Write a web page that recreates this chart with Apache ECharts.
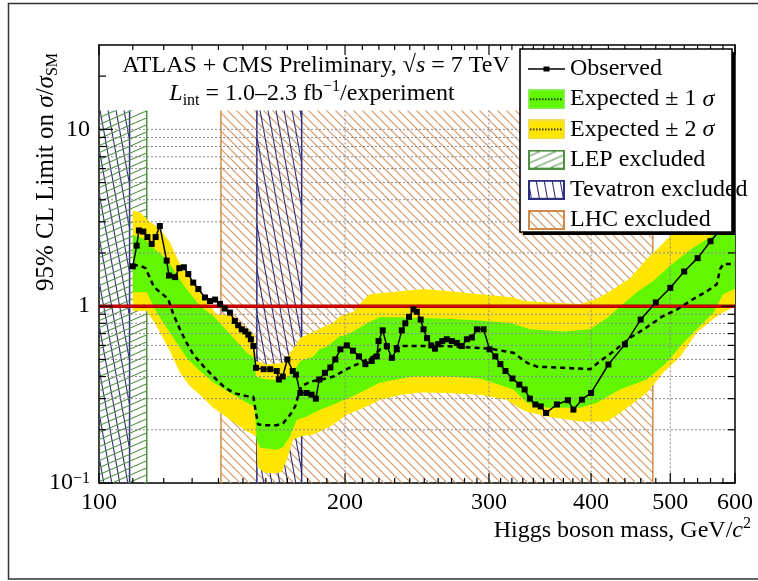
<!DOCTYPE html>
<html>
<head>
<meta charset="utf-8">
<script src="https://cdn.jsdelivr.net/npm/echarts@6/dist/echarts.min.js"></script>
<style>
  html, body { margin: 0; padding: 0; background: #fff; }
  #chart { width: 758px; height: 581px; }
</style>
</head>
<body>
<div id="chart"></div>
<script>
// ---- data -------------------------------------------------------------
// Observed 95% CL limit on sigma/sigma_SM vs Higgs mass (GeV)
const massObs = [110, 111.2, 111.9, 113.3, 114.6, 116, 117.3, 118.7, 121, 121.8, 123.9, 125.4, 127, 128.6,
  130.4, 132.3, 134.8, 136.7, 138.7, 140.6, 142.5, 144.6, 146.6, 148, 149.5, 151, 152.3, 153.4, 154.5, 155.6,
  159, 162, 165, 166, 167.8, 170, 172.6, 174.2, 176.3, 179.5, 182, 184.2, 186, 189, 191.9, 194.6, 197.4,
  201, 204.5, 208, 211.8, 215.6, 218.7, 219.8, 222.4, 225, 228.2, 231.4, 234.7, 237, 239.5, 242.5, 244.8,
  247.5, 249.5, 252, 255, 257.7, 260, 263, 266.4, 270.2, 274, 277.9, 281.9, 285.9, 290, 295.5, 300.5,
  305.4, 309.8, 314.3, 320.5, 326.8, 331.7, 336.7, 341.9, 347.1, 352.4, 363.3, 374.7, 380.6, 389.8, 400,
  420, 440, 460, 480, 500, 520, 540, 560, 580];
const limitObs = [1.68, 2.2, 2.68, 2.64, 2.46, 2.25, 2.46, 2.84, 1.81, 1.49, 1.46, 1.64, 1.66, 1.52,
  1.36, 1.25, 1.12, 1.07, 1.09, 1.03, 0.97, 0.92, 0.825, 0.78, 0.74, 0.72, 0.69, 0.65, 0.595, 0.448,
  0.44, 0.44, 0.43, 0.385, 0.40, 0.50, 0.43, 0.41, 0.323, 0.323, 0.316, 0.30, 0.385, 0.42, 0.45, 0.50, 0.57,
  0.60, 0.56, 0.52, 0.47, 0.49, 0.52, 0.635, 0.73, 0.595, 0.51, 0.57, 0.73, 0.80, 0.87, 0.96, 0.93,
  0.84, 0.74, 0.66, 0.60, 0.575, 0.61, 0.635, 0.65, 0.635, 0.62, 0.595, 0.65, 0.665, 0.74, 0.74, 0.57,
  0.52, 0.47, 0.43, 0.39, 0.36, 0.338, 0.30, 0.278, 0.271, 0.249, 0.278, 0.294, 0.26, 0.296, 0.323,
  0.468, 0.608, 0.84, 1.05, 1.27, 1.57, 1.87, 2.33, 2.8];

// Median expected limit
const massExp = [110, 112.5, 114, 116.8, 119.3, 121.5, 123.3, 125.6, 128, 130.4, 134.2, 138, 141.9, 146,
  151.6, 154.5, 155.6, 156.6, 160.4, 165, 168, 171.3, 173.8, 175.4, 177, 182, 187.3, 193.6, 201, 208.6,
  216.6, 220.8, 231.4, 247, 266, 292.7, 304, 321.4, 334, 343.6, 370.5, 399, 410.6, 426.5, 447, 466, 488,
  510, 533, 555, 570, 575.3, 580.4, 600];
const limitExp = [1.71, 1.69, 1.64, 1.28, 1.18, 1.10, 0.90, 0.74, 0.62, 0.534, 0.458, 0.40, 0.353, 0.323,
  0.31, 0.307, 0.25, 0.214, 0.212, 0.212, 0.218, 0.243, 0.271, 0.316, 0.353, 0.376, 0.385, 0.40, 0.44, 0.478,
  0.52, 0.57, 0.595, 0.595, 0.595, 0.58, 0.57, 0.545, 0.478, 0.455, 0.448, 0.44, 0.49, 0.557, 0.665, 0.75, 0.87,
  0.96, 1.095, 1.22, 1.33, 1.62, 1.73, 1.73];

// +1 sigma / -1 sigma edges
const sig1UpMass = [110, 113.8, 117.6, 121, 124.7, 128, 133, 138, 146, 151.6, 155, 155.6, 160.4, 168, 172.8,
  176.3, 182.9, 186, 190, 197.4, 200, 206.8, 212.6, 220.8, 242.5, 266.4, 292.7, 320, 337, 370.5, 399, 418.6,
  434.4, 454.8, 476.4, 500, 530, 570, 600];
const sig1UpVal = [2.53, 2.4, 2.06, 1.85, 1.49, 1.25, 1.0, 0.88, 0.664, 0.545, 0.51, 0.40, 0.385, 0.385, 0.42,
  0.49, 0.52, 0.57, 0.59, 0.68, 0.68, 0.74, 0.80, 0.87, 0.86, 0.85, 0.83, 0.80, 0.74, 0.72, 0.74, 0.86,
  1.0, 1.2, 1.39, 1.7, 2.1, 2.6, 3.3];
const sig1DnMass = [110, 114.4, 117.6, 123.3, 128, 132.9, 138, 146, 151.6, 155, 155.9, 157.5, 165, 168, 171.3,
  174.6, 179.5, 186.4, 193.6, 201, 204.7, 213, 220.8, 242.5, 266, 292.7, 321.4, 334, 353.3, 387.7, 406.6,
  434, 468, 495, 514.5, 538.6, 565, 580, 600];
const sig1DnVal = [1.2, 1.2, 0.92, 0.664, 0.51, 0.43, 0.37, 0.316, 0.284, 0.271, 0.176, 0.158, 0.154, 0.16, 0.184,
  0.228, 0.238, 0.26, 0.278, 0.30, 0.31, 0.34, 0.37, 0.40, 0.40, 0.39, 0.338, 0.284, 0.266, 0.266, 0.284,
  0.338, 0.385, 0.478, 0.595, 0.74, 0.92, 1.17, 1.25];

// +2 sigma / -2 sigma edges
const sig2UpMass = [110, 112.2, 114.9, 118.7, 122.1, 125, 128, 132.9, 139.3, 146, 151.6, 155, 155.6, 160.4,
  168, 173.8, 176.3, 184.7, 193.6, 197.4, 204.7, 210.5, 214.4, 226.8, 249, 266.4, 292.7, 321.4, 331.7,
  353.3, 387.7, 406.6, 424, 447, 468, 486.6, 500, 530, 600];
const sig2UpVal = [3.48, 3.4, 3.05, 2.74, 2.3, 1.81, 1.52, 1.2, 0.90, 0.88, 0.74, 0.69, 0.49, 0.468,
  0.478, 0.595, 0.664, 0.73, 0.81, 0.88, 0.93, 1.08, 1.17, 1.2, 1.25, 1.22, 1.17, 1.12, 1.07,
  1.05, 1.03, 1.1, 1.23, 1.45, 1.85, 2.2, 2.5, 3.3, 5.0];
const sig2DnMass = [110, 114.4, 117.6, 122.1, 125.6, 129.2, 132.9, 138, 144.7, 151.6, 155.9, 156.2, 159, 163.4,
  167.3, 169.7, 172.9, 177, 182.9, 191.9, 201, 212.6, 220.8, 233.4, 247, 266.4, 292.7, 315, 331.7, 353.3,
  387.7, 418.6, 434, 468, 490, 514.5, 538.6, 565, 580, 600];
const sig2DnVal = [0.94, 0.94, 0.77, 0.557, 0.42, 0.353, 0.316, 0.266, 0.228, 0.196, 0.184, 0.123, 0.115, 0.113,
  0.115, 0.135, 0.176, 0.184, 0.188, 0.209, 0.243, 0.271, 0.296, 0.315, 0.325, 0.323, 0.316, 0.296, 0.255, 0.238,
  0.223, 0.223, 0.249, 0.323, 0.42, 0.52, 0.71, 0.85, 0.92, 1.0];

// Excluded mass ranges (GeV)
const lepRanges = [[100, 114.4]];
const tevatronRanges = [[100, 109], [156, 177]];
const lhcRanges = [[141, 476]];
const exclusionTop = 12.8;   // hatched areas stop below the header text
const smLevel = 1;

// Axis ranges, ticks and grid
const xRange = [100, 600];
const yRange = [0.1, 30];
const xLabels = [100, 200, 300, 400, 500, 600];
const xMinorTicks = [110, 120, 130, 140, 150, 160, 170, 180, 190, 210, 220, 230, 240, 250, 260, 270, 280, 290,
  310, 320, 330, 340, 350, 360, 370, 380, 390, 420, 440, 460, 480, 520, 540, 560, 580];
const yLabels = [0.1, 1, 10];
const yMinorTicks = [0.2, 0.3, 0.4, 0.5, 0.6, 0.7, 0.8, 0.9, 2, 3, 4, 5, 6, 7, 8, 9, 20];
const xGrid = [200, 300, 400, 500];
const yGrid = [0.2, 0.3, 0.4, 0.5, 0.6, 0.7, 0.8, 0.9, 2, 3, 4, 5, 6, 7, 8, 9, 10];

// ---- styling ------------------------------------------------------------
const SERIF = '"Liberation Serif", "DejaVu Serif", serif';
const FONT = 24;
const YELLOW = '#ffe600';
const GREEN = '#62f700';
const LHC_COLOR = '#d08a48';
const TEV_COLOR = '#2e2e7e';
const LEP_COLOR = '#4f8f3f';
const LEGEND_BOX = { x: 520, y: 49, width: 212, height: 183 };

function hatchCanvas(w, h, color, width, dir) {
  const c = document.createElement('canvas');
  c.width = w; c.height = h;
  const g = c.getContext('2d');
  g.strokeStyle = color; g.lineWidth = width;
  for (let ox = -w; ox <= w; ox += w) {
    for (let oy = -h; oy <= h; oy += h) {
      g.beginPath();
      if (dir === '\\') { g.moveTo(ox, oy); g.lineTo(ox + w, oy + h); }
      else { g.moveTo(ox, oy + h); g.lineTo(ox + w, oy); }
      g.stroke();
    }
  }
  return c;
}
const lhcPattern = hatchCanvas(9, 9, '#d39a68', 1.2, '\\');
const tevPattern = hatchCanvas(8, 44, TEV_COLOR, 1.1, '\\');
const lepPattern = hatchCanvas(16, 7, LEP_COLOR, 1.1, '/');

function iconCanvas(draw) {
  const c = document.createElement('canvas');
  c.width = 37; c.height = 20;
  draw(c.getContext('2d'));
  return 'image://' + c.toDataURL();
}
const bandIcon = (fill, edge) => iconCanvas(g => {
  g.fillStyle = fill; g.fillRect(0, 0, 37, 20);
  g.strokeStyle = edge; g.lineWidth = 1.5; g.strokeRect(0.75, 0.75, 35.5, 18.5);
  g.strokeStyle = '#000'; g.lineWidth = 1.3; g.setLineDash([1.5, 1.5]);
  g.beginPath(); g.moveTo(2, 10); g.lineTo(35, 10); g.stroke();
});
const hatchIcon = (pat, color) => iconCanvas(g => {
  g.fillStyle = '#fff'; g.fillRect(0, 0, 37, 20);
  g.fillStyle = g.createPattern(pat, 'repeat'); g.fillRect(0, 0, 37, 20);
  g.strokeStyle = color; g.lineWidth = 2; g.strokeRect(1, 1, 35, 18);
});
const observedIcon = iconCanvas(g => {
  g.strokeStyle = '#000'; g.lineWidth = 1.5;
  g.beginPath(); g.moveTo(0, 10); g.lineTo(37, 10); g.stroke();
  g.fillStyle = '#000'; g.fillRect(15.5, 7.5, 6, 5);
});

// single-item custom series that draws a whole layer using the axes' scales
function layer(name, z, draw) {
  return {
    type: 'custom', name: name, z: z, silent: true, animation: false,
    data: [[xRange[0], yRange[0]]],
    renderItem: (params, api) => draw(params, api)
  };
}

function exclusionLayer(name, z, ranges, pattern, edgeColor, edgeWidth) {
  return layer(name, z, (params, api) => {
    const children = [];
    ranges.forEach(r => {
      const p1 = api.coord([r[0], exclusionTop]);
      const p2 = api.coord([r[1], yRange[0]]);
      children.push({
        type: 'rect',
        shape: { x: p1[0], y: p1[1], width: p2[0] - p1[0], height: p2[1] - p1[1] },
        style: { fill: { type: 'pattern', image: pattern, repeat: 'repeat' } }
      });
      r.forEach(m => {
        if (m <= xRange[0]) return;
        const a = api.coord([m, exclusionTop]);
        const b = api.coord([m, yRange[0]]);
        children.push({
          type: 'line', shape: { x1: a[0], y1: a[1], x2: b[0], y2: b[1] },
          style: { stroke: edgeColor, lineWidth: edgeWidth }
        });
      });
    });
    return { type: 'group', children: children };
  });
}

function bandLayer(name, z, upM, upV, dnM, dnV, fill) {
  return layer(name, z, (params, api) => {
    const pts = [];
    upM.forEach((m, i) => pts.push(api.coord([m, upV[i]])));
    for (let i = dnM.length - 1; i >= 0; i--) pts.push(api.coord([dnM[i], dnV[i]]));
    return { type: 'polygon', shape: { points: pts }, style: { fill: fill } };
  });
}

const gridLayer = layer('grid', 5, (params, api) => {
  const children = [];
  const st = { stroke: '#8c8c8c', lineWidth: 1, lineDash: [2, 2] };
  xGrid.forEach(m => {
    const a = api.coord([m, exclusionTop]), b = api.coord([m, yRange[0]]);
    children.push({ type: 'line', shape: { x1: a[0], y1: a[1], x2: b[0], y2: b[1] }, style: st });
  });
  yGrid.forEach(v => {
    const a = api.coord([xRange[0], v]), b = api.coord([xRange[1], v]);
    children.push({ type: 'line', shape: { x1: a[0], y1: a[1], x2: b[0], y2: b[1] }, style: st });
  });
  return { type: 'group', children: children };
});

const smLayer = layer('sm', 6, (params, api) => {
  const a = api.coord([xRange[0], smLevel]), b = api.coord([xRange[1], smLevel]);
  return { type: 'group', children: [
    { type: 'line', shape: { x1: a[0], y1: a[1], x2: b[0], y2: b[1] }, style: { stroke: '#9a0000', lineWidth: 3.6 } },
    { type: 'line', shape: { x1: a[0], y1: a[1], x2: b[0], y2: b[1] }, style: { stroke: '#e00000', lineWidth: 2 } }
  ] };
});

const tickLayer = layer('ticks', 9, (params, api) => {
  const r = params.coordSys;
  const children = [];
  const st = { stroke: '#000', lineWidth: 1.2 };
  const addX = (m, len) => {
    const x = api.coord([m, yRange[0]])[0];
    children.push({ type: 'line', shape: { x1: x, y1: r.y + r.height, x2: x, y2: r.y + r.height - len }, style: st });
    children.push({ type: 'line', shape: { x1: x, y1: r.y, x2: x, y2: r.y + len }, style: st });
  };
  const addY = (v, len) => {
    const y = api.coord([xRange[0], v])[1];
    children.push({ type: 'line', shape: { x1: r.x, y1: y, x2: r.x + len, y2: y }, style: st });
    children.push({ type: 'line', shape: { x1: r.x + r.width, y1: y, x2: r.x + r.width - len, y2: y }, style: st });
  };
  xLabels.forEach(m => addX(m, 10));
  xMinorTicks.forEach(m => addX(m, 5));
  yLabels.forEach(v => addY(v, 14));
  yMinorTicks.forEach(v => addY(v, 7));
  return { type: 'group', children: children };
});

// white framed box behind the legend entries
const legendBoxLayer = layer('legendBox', 15, () => ({
  type: 'group', children: [
    { type: 'rect', shape: { x: LEGEND_BOX.x + 3, y: LEGEND_BOX.y + 3, width: LEGEND_BOX.width, height: LEGEND_BOX.height },
      style: { fill: '#000' } },
    { type: 'rect', shape: LEGEND_BOX, style: { fill: '#fff', stroke: '#000', lineWidth: 1.6 } }
  ]
}));

const rich = {
  it: { fontStyle: 'italic', fontSize: FONT, fontFamily: SERIF, lineHeight: 30, color: '#000' },
  sub: { fontSize: 16, fontFamily: SERIF, verticalAlign: 'bottom', lineHeight: 15, color: '#000' },
  sup: { fontSize: 16, fontFamily: SERIF, verticalAlign: 'top', lineHeight: 15, color: '#000' }
};
const baseText = { fontSize: FONT, fontFamily: SERIF, fill: '#000', lineHeight: 30, rich: rich };

const axisLineStyle = { show: true, onZero: false, lineStyle: { color: '#000', width: 1.5 } };

const chart = echarts.init(document.getElementById('chart'), null, { renderer: 'canvas' });
chart.setOption({
  animation: false,
  backgroundColor: '#fff',
  grid: { left: 99, top: 45, right: 23, bottom: 98 },
  xAxis: [
    {
      type: 'log', logBase: 10, min: xRange[0], max: xRange[1], position: 'bottom',
      axisLine: axisLineStyle, axisTick: { show: false }, splitLine: { show: false },
      axisLabel: {
        customValues: xLabels, margin: 8, fontSize: FONT, fontFamily: SERIF, color: '#000',
        formatter: v => String(Math.round(v))
      }
    },
    {
      type: 'log', logBase: 10, min: xRange[0], max: xRange[1], position: 'top',
      axisLine: axisLineStyle, axisTick: { show: false }, axisLabel: { show: false }, splitLine: { show: false }
    }
  ],
  yAxis: [
    {
      type: 'log', logBase: 10, min: yRange[0], max: yRange[1], position: 'left',
      axisLine: axisLineStyle, axisTick: { show: false }, splitLine: { show: false },
      axisLabel: {
        customValues: yLabels, margin: 9, fontSize: FONT, fontFamily: SERIF, color: '#000', lineHeight: 24,
        formatter: v => {
          const e = Math.round(Math.log10(v));
          return e < 0 ? '10{sup|\u2212' + (-e) + '}' : String(Math.round(v));
        },
        rich: rich
      }
    },
    {
      type: 'log', logBase: 10, min: yRange[0], max: yRange[1], position: 'right',
      axisLine: axisLineStyle, axisTick: { show: false }, axisLabel: { show: false }, splitLine: { show: false }
    }
  ],
  legend: {
    orient: 'vertical', left: 528, top: 57, padding: 0, itemGap: 6.2,
    itemWidth: 37, itemHeight: 20, z: 20, selectedMode: false,
    textStyle: {
      fontFamily: SERIF, fontSize: FONT, color: '#000', lineHeight: 24,
      rich: { i: { fontStyle: 'italic', fontFamily: SERIF, fontSize: FONT, color: '#000', lineHeight: 24 } }
    },
    formatter: name => name.replace('\u03c3', '{i|\u03c3}'),
    data: [
      { name: 'Observed', icon: observedIcon },
      { name: 'Expected \u00b1 1 \u03c3', icon: bandIcon(GREEN, '#8cf060') },
      { name: 'Expected \u00b1 2 \u03c3', icon: bandIcon(YELLOW, '#f0dc60') },
      { name: 'LEP excluded', icon: hatchIcon(lepPattern, LEP_COLOR) },
      { name: 'Tevatron excluded', icon: hatchIcon(tevPattern, TEV_COLOR) },
      { name: 'LHC excluded', icon: hatchIcon(lhcPattern, LHC_COLOR) }
    ]
  },
  graphic: [
    { type: 'rect', silent: true, shape: { x: 8.5, y: 3.5, width: 800, height: 575.5 },
      style: { fill: 'transparent', stroke: '#333', lineWidth: 1.5 } },
    { type: 'text', silent: true, x: 316, y: 66,
      style: Object.assign({}, baseText, { text: 'ATLAS + CMS Preliminary, \u221a{it|s} = 7 TeV', align: 'center', verticalAlign: 'middle' }) },
    { type: 'text', silent: true, x: 312, y: 94,
      style: Object.assign({}, baseText, { text: '{it|L}{sub|int} = 1.0\u20132.3 fb{sup|\u22121}/experiment', align: 'center', verticalAlign: 'middle' }) },
    { type: 'text', silent: true, x: 751, y: 531,
      style: Object.assign({}, baseText, { text: 'Higgs boson mass, GeV/{it|c}{sup|2}', align: 'right', verticalAlign: 'middle' }) },
    { type: 'text', silent: true, x: 46, y: 172, rotation: Math.PI / 2,
      style: Object.assign({}, baseText, { fontSize: 25,
        text: '95% CL Limit on {it2|\u03c3}/{it2|\u03c3}{sub|SM}', align: 'center', verticalAlign: 'middle',
        rich: Object.assign({}, rich, { it2: { fontStyle: 'italic', fontSize: 25, fontFamily: SERIF, lineHeight: 30, color: '#000' } }) }) }
  ],
  series: [
    exclusionLayer('LHC excluded', 1, lhcRanges, lhcPattern, LHC_COLOR, 1.5),
    exclusionLayer('Tevatron excluded', 1, tevatronRanges, tevPattern, TEV_COLOR, 1.5),
    exclusionLayer('LEP excluded', 1, lepRanges, lepPattern, LEP_COLOR, 1.5),
    bandLayer('Expected \u00b1 2 \u03c3', 3, sig2UpMass, sig2UpVal, sig2DnMass, sig2DnVal, YELLOW),
    bandLayer('Expected \u00b1 1 \u03c3', 4, sig1UpMass, sig1UpVal, sig1DnMass, sig1DnVal, GREEN),
    gridLayer,
    smLayer,
    {
      type: 'line', name: 'Expected', z: 7, animation: false, silent: true,
      data: massExp.map((m, i) => [m, limitExp[i]]),
      showSymbol: false, symbol: 'none',
      lineStyle: { color: '#000', width: 2.5, type: [5, 4] }
    },
    {
      type: 'line', name: 'Observed', z: 8, animation: false, silent: true,
      data: massObs.map((m, i) => [m, limitObs[i]]),
      symbol: 'rect', symbolSize: 6,
      itemStyle: { color: '#000' },
      lineStyle: { color: '#000', width: 1.5 }
    },
    tickLayer,
    legendBoxLayer
  ]
});
</script>
</body>
</html>
